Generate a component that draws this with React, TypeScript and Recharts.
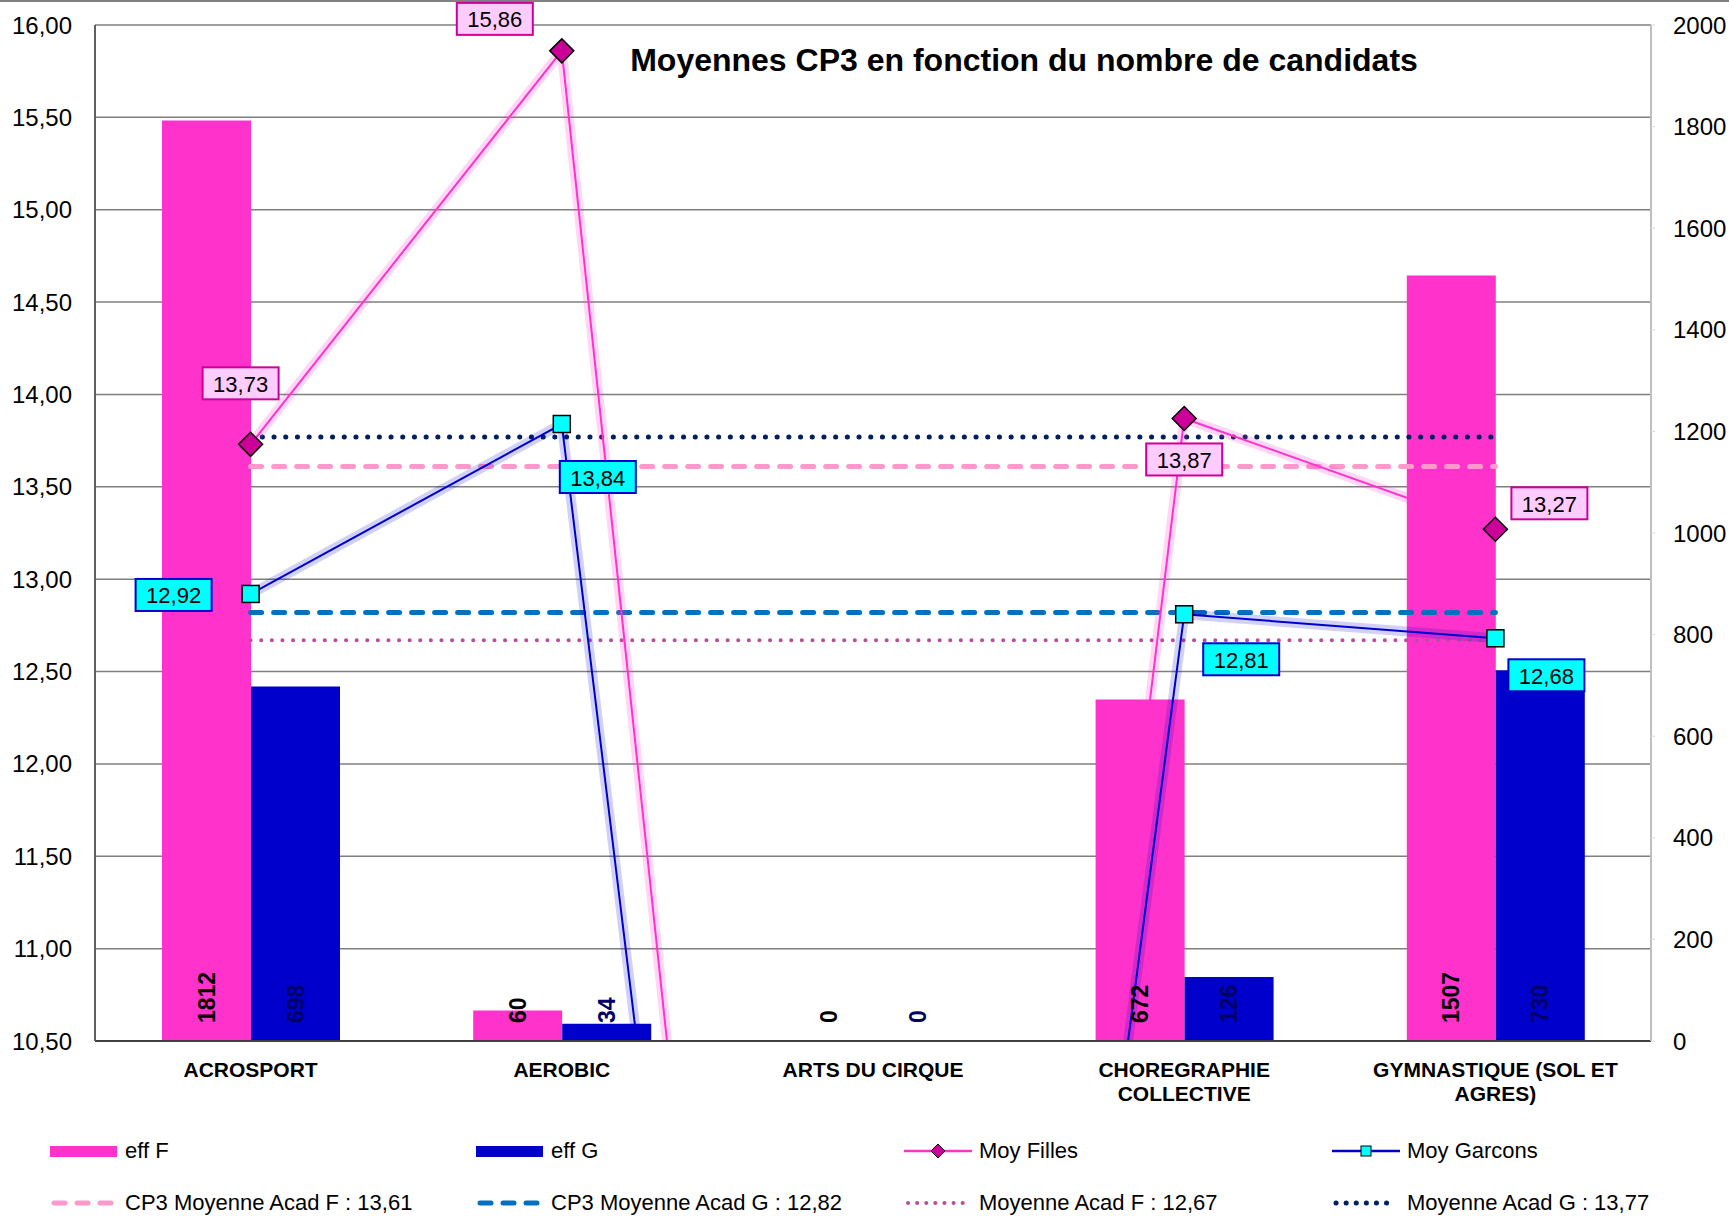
import React from 'react';
import { ComposedChart, Bar, Line, XAxis, YAxis, CartesianGrid, LabelList } from 'recharts';

// values
const categories = ['ACROSPORT', 'AEROBIC', 'ARTS DU CIRQUE', 'CHOREGRAPHIE COLLECTIVE', 'GYMNASTIQUE (SOL ET AGRES)'];
const effF = [1812, 60, 0, 672, 1507];
const effG = [698, 34, 0, 126, 730];
const moyFilles = [13.73, 15.86, 0, 13.87, 13.27];
const moyGarcons = [12.92, 13.84, 0, 12.81, 12.68];
const cp3AcadF = [13.61, 13.61, 13.61, 13.61, 13.61];
const cp3AcadG = [12.82, 12.82, 12.82, 12.82, 12.82];
const acadF = [12.67, 12.67, 12.67, 12.67, 12.67];
const acadG = [13.77, 13.77, 13.77, 13.77, 13.77];

const leftTicks = [10.5, 11, 11.5, 12, 12.5, 13, 13.5, 14, 14.5, 15, 15.5, 16];
const rightTicks = [0, 200, 400, 600, 800, 1000, 1200, 1400, 1600, 1800, 2000];

// where each value box sits relative to its marker (px)
const fillesLabelOffsets = [[-10, -61], [-67, -32], [0, 0], [0, 41], [54, -26]];
const garconsLabelOffsets = [[-77, 1], [36, 53], [0, 0], [57, 45], [51, 37]];

const data = categories.map((name, i) => ({
  name,
  effF: effF[i],
  effG: effG[i],
  moyFilles: moyFilles[i],
  moyGarcons: moyGarcons[i],
  cp3AcadF: cp3AcadF[i],
  cp3AcadG: cp3AcadG[i],
  acadF: acadF[i],
  acadG: acadG[i],
}));

const W = 1729;
const H = 1219;
const FONT = '"Liberation Sans", Arial, sans-serif';

const PINK = '#FF33CC';
const BLUE = '#0000CC';

const fmt = (v: number) => v.toFixed(2).replace('.', ',');

function wrapWords(text: string, max: number) {
  const out: string[] = [];
  let cur = '';
  text.split(' ').forEach((w) => {
    const next = cur ? cur + ' ' + w : w;
    if (next.length > max && cur) {
      out.push(cur);
      cur = w;
    } else {
      cur = next;
    }
  });
  if (cur) out.push(cur);
  return out;
}

const CategoryTick = (props: any) => {
  const { x, y, payload } = props;
  const lines = wrapWords(String(payload.value), 20);
  return (
    <g>
      {lines.map((l, i) => (
        <text
          key={i}
          x={x}
          y={y + 28 + i * 24}
          textAnchor="middle"
          dominantBaseline="central"
          fontFamily={FONT}
          fontWeight="bold"
          fontSize={21}
          fill="#000"
        >
          {l}
        </text>
      ))}
    </g>
  );
};

const barLabel = (color: string, bottom: number) => (props: any) => {
  const { x, width, value } = props;
  const cx = Number(x) + Number(width) / 2;
  const base = bottom - 18;
  return (
    <text
      x={cx}
      y={base}
      transform={`rotate(-90 ${cx} ${base})`}
      textAnchor="start"
      dominantBaseline="central"
      fontFamily={FONT}
      fontWeight="bold"
      fontSize={23}
      fill={color}
    >
      {value}
    </text>
  );
};

const valueBox = (values: number[], offsets: number[][], bg: string, border: string) => (props: any) => {
  const { x, y, value } = props;
  if (!value) return <g />;
  const idx = props.index ?? values.indexOf(value);
  const [dx, dy] = offsets[idx] || [0, 0];
  const cx = Number(x) + dx;
  const cy = Number(y) + dy;
  const w = 76;
  const h = 32;
  return (
    <g>
      <rect x={cx - w / 2} y={cy - h / 2} width={w} height={h} fill={bg} stroke={border} strokeWidth={2} />
      <text x={cx} y={cy + 1} textAnchor="middle" dominantBaseline="central" fontFamily={FONT} fontSize={22} fill="#000">
        {fmt(Number(value))}
      </text>
    </g>
  );
};

const DiamondDot = (props: any) => {
  const { cx, cy, value, index } = props;
  if (!value || cx == null || cy == null) return <g key={`d${index}`} />;
  const r = 12;
  return (
    <path
      key={`d${index}`}
      d={`M${cx},${cy - r} L${cx + r},${cy} L${cx},${cy + r} L${cx - r},${cy} Z`}
      fill="#CC0099"
      stroke="#000"
      strokeWidth={1.5}
    />
  );
};

const SquareDot = (props: any) => {
  const { cx, cy, value, index } = props;
  if (!value || cx == null || cy == null) return <g key={`s${index}`} />;
  const r = 8.5;
  return <rect key={`s${index}`} x={cx - r} y={cy - r} width={r * 2} height={r * 2} fill="#00FFFF" stroke="#000" strokeWidth={1.5} />;
};

type LegendItem = { label: string; kind: 'bar' | 'line'; color: string; dash?: string; width?: number; marker?: 'diamond' | 'square' };

const legendItems: LegendItem[] = [
  { label: 'eff F', kind: 'bar', color: PINK },
  { label: 'eff G', kind: 'bar', color: BLUE },
  { label: 'Moy Filles', kind: 'line', color: PINK, width: 2.5, marker: 'diamond' },
  { label: 'Moy Garcons', kind: 'line', color: BLUE, width: 2.5, marker: 'square' },
  { label: 'CP3 Moyenne Acad F : 13,61', kind: 'line', color: '#FF99CC', dash: '11 12', width: 5 },
  { label: 'CP3 Moyenne Acad G : 12,82', kind: 'line', color: '#0070C0', dash: '11 12', width: 5 },
  { label: 'Moyenne Acad F : 12,67', kind: 'line', color: '#B5519C', dash: '0.1 9', width: 4 },
  { label: 'Moyenne Acad G : 13,77', kind: 'line', color: '#002060', dash: '0.1 10', width: 5 },
];
const legendCols = [50, 476, 904, 1332];
const legendRows = [1151, 1203];

function LegendSwatch({ item }: { item: LegendItem }) {
  return (
    <svg width={70} height={24} style={{ display: 'block' }}>
      {item.kind === 'bar' ? (
        <rect x={0} y={7} width={67} height={11} fill={item.color} />
      ) : (
        <line
          x1={item.dash ? 4 : 0}
          x2={item.dash ? 62 : 68}
          y1={12}
          y2={12}
          stroke={item.color}
          strokeWidth={item.width}
          strokeDasharray={item.dash}
          strokeLinecap={item.dash ? 'round' : 'butt'}
        />
      )}
      {item.marker === 'diamond' && <path d="M34,5 L41,12 L34,19 L27,12 Z" fill="#CC0099" stroke="#000" strokeWidth={1} />}
      {item.marker === 'square' && <rect x={29} y={7} width={10} height={10} fill="#00FFFF" stroke="#000" strokeWidth={1} />}
    </svg>
  );
}

const PLOT_TOP = 25;
const PLOT_BOTTOM = 1041;

export default function App() {
  return (
    <div style={{ position: 'absolute', left: 0, top: 0, width: W, height: H, background: '#fff', fontFamily: FONT }}>
      <div style={{ position: 'absolute', left: 0, top: 0, width: W, height: 2, background: '#808080' }} />
      <ComposedChart width={W} height={H} data={data} margin={{ top: PLOT_TOP, right: 0, bottom: H - PLOT_BOTTOM - 70, left: 0 }} barGap={0}>
        <CartesianGrid yAxisId="left" vertical={false} stroke="#7F7F7F" strokeWidth={1.5} />
        <XAxis
          dataKey="name"
          type="category"
          height={70}
          tickSize={0}
          tickMargin={0}
          tickLine={false}
          axisLine={{ stroke: '#404040', strokeWidth: 2 }}
          tick={<CategoryTick />}
          interval={0}
        />
        <YAxis
          yAxisId="left"
          width={95}
          domain={[10.5, 16]}
          ticks={leftTicks}
          allowDataOverflow
          tickFormatter={fmt}
          tickLine={false}
          tickSize={0}
          tickMargin={23}
          axisLine={{ stroke: '#606060', strokeWidth: 2 }}
          tick={{ fontSize: 24, fill: '#000', fontFamily: FONT }}
        />
        <YAxis
          yAxisId="right"
          orientation="right"
          width={78}
          domain={[0, 2000]}
          ticks={rightTicks}
          allowDataOverflow
          tickSize={4}
          tickMargin={18}
          tickLine={{ stroke: '#D9D9D9' }}
          axisLine={{ stroke: '#BFBFBF', strokeWidth: 2 }}
          tick={{ fontSize: 24, fill: '#000', fontFamily: FONT }}
        />
        <Bar yAxisId="right" dataKey="effF" fill={PINK} barSize={89} minPointSize={1} isAnimationActive={false}>
          <LabelList dataKey="effF" content={barLabel('#000', PLOT_BOTTOM)} />
        </Bar>
        <Bar yAxisId="right" dataKey="effG" fill={BLUE} barSize={89} minPointSize={1} isAnimationActive={false}>
          <LabelList dataKey="effG" content={barLabel('#000066', PLOT_BOTTOM)} />
        </Bar>
        <Line yAxisId="left" dataKey="acadF" stroke="#B5519C" strokeWidth={4} strokeDasharray="0.1 10.5" strokeLinecap="round" dot={false} activeDot={false} isAnimationActive={false} />
        <Line yAxisId="left" dataKey="cp3AcadG" stroke="#0070C0" strokeWidth={5} strokeDasharray="11 12" strokeLinecap="round" dot={false} activeDot={false} isAnimationActive={false} />
        <Line yAxisId="left" dataKey="cp3AcadF" stroke="#FF99CC" strokeWidth={5} strokeDasharray="11 12" strokeLinecap="round" dot={false} activeDot={false} isAnimationActive={false} />
        <Line yAxisId="left" dataKey="acadG" stroke="#002060" strokeWidth={5} strokeDasharray="0.1 11.6" strokeLinecap="round" dot={false} activeDot={false} isAnimationActive={false} />
        {/* soft glow under the two average lines */}
        <Line yAxisId="left" dataKey="moyFilles" stroke={PINK} strokeOpacity={0.2} strokeWidth={10} dot={false} activeDot={false} isAnimationActive={false} />
        <Line yAxisId="left" dataKey="moyGarcons" stroke={BLUE} strokeOpacity={0.18} strokeWidth={10} dot={false} activeDot={false} isAnimationActive={false} />
        <Line yAxisId="left" dataKey="moyFilles" stroke={PINK} strokeWidth={2} dot={<DiamondDot />} activeDot={false} isAnimationActive={false}>
          <LabelList dataKey="moyFilles" content={valueBox(moyFilles, fillesLabelOffsets, '#FFCCFF', '#CC0099')} />
        </Line>
        <Line yAxisId="left" dataKey="moyGarcons" stroke={BLUE} strokeWidth={2} dot={<SquareDot />} activeDot={false} isAnimationActive={false}>
          <LabelList dataKey="moyGarcons" content={valueBox(moyGarcons, garconsLabelOffsets, '#00FFFF', '#0000CC')} />
        </Line>
      </ComposedChart>

      <div
        style={{
          position: 'absolute',
          left: 1024,
          top: 60,
          transform: 'translate(-50%, -50%)',
          whiteSpace: 'nowrap',
          fontWeight: 'bold',
          fontSize: 32,
        }}
      >
        Moyennes CP3 en fonction du nombre de candidats
      </div>

      {legendItems.map((item, i) => (
        <div
          key={item.label}
          style={{
            position: 'absolute',
            left: legendCols[i % 4],
            top: legendRows[Math.floor(i / 4)] - 12,
            height: 24,
            display: 'flex',
            alignItems: 'center',
            whiteSpace: 'nowrap',
            fontSize: 22,
          }}
        >
          <LegendSwatch item={item} />
          <span style={{ marginLeft: 5 }}>{item.label}</span>
        </div>
      ))}
    </div>
  );
}
